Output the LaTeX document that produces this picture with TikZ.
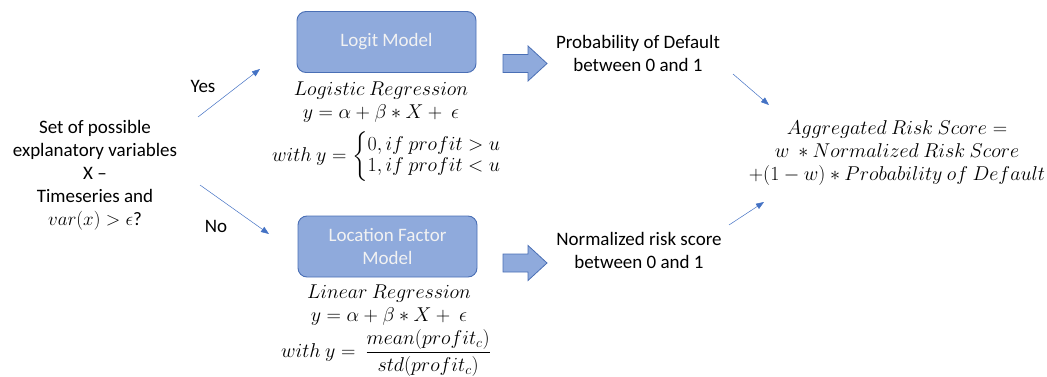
\RequirePackage{fix-cm}
\documentclass[tikz,border=0pt]{standalone}
\usepackage{amsmath}
\usepackage{fontspec}
\setmainfont{Carlito}
\usetikzlibrary{arrows.meta}
\definecolor{boxfill}{HTML}{8FAADC}
\definecolor{boxedge}{HTML}{4A6FB5}
\definecolor{linkblue}{HTML}{4472C4}
\begin{document}
\begin{tikzpicture}[x=1pt,y=-1pt,
  every node/.style={font=\fontsize{19}{23}\selectfont, inner sep=0pt},
  model/.style={draw=boxedge, line width=0.9pt, fill=boxfill, rounded corners=9pt,
    minimum width=179pt, minimum height=61pt, align=center, text=white!95!black},
  txt/.style={align=center},
  eq/.style={font=\fontsize{20}{23}\selectfont, align=center},
  link/.style={draw=linkblue, line width=0.5pt, -{Triangle[length=8pt,width=6pt]}},
  blockarrow/.style={draw=boxedge, line width=0.8pt, fill=boxfill}]
\useasboundingbox (0,0) rectangle (1047,377);

% input question
\node[txt] (input) at (95,175) {Set of possible\\explanatory variables\\X --\\Timeseries and\\$var(x) > \epsilon$?};

% branch labels
\node (yes) at (203,86) {Yes};
\node (no) at (216,226) {No};
\coordinate (yesA) at (198,117);
\coordinate (yesB) at (260,69);
\coordinate (noA) at (200,185);
\coordinate (noB) at (269,234);
\draw[link] (yesA) -- (yesB);
\draw[link] (noA) -- (noB);

% model boxes
\node[model] (logit) at (386.5,42) {Logit Model};
\node[model] (loc) at (387.5,246.5) {Location Factor\\Model};

% logistic regression formulas
\node[eq] (lr1) at (381,102) {$Logistic\ Regression$\\$y = \alpha + \beta * X +\ \epsilon$};
\node[eq, anchor=west] (lr3) at (272,157)
  {$with\ y = \left\{\renewcommand{\arraystretch}{0.92}\begin{array}{@{}l@{}}0, if\ profit > u\\ 1, if\ profit < u\end{array}\right.$};

% linear regression formulas
\node[eq] (li1) at (389,305) {$Linear\ Regression$\\$y = \alpha + \beta * X +\ \epsilon$};
\node[eq] (li3) at (386,353) {$with\ y = \ \dfrac{mean(profit_c)}{std(profit_c)}$};

% block arrows
\coordinate (ba1) at (503,45.5);
\coordinate (ba2) at (503,245);
\foreach \c in {ba1,ba2}{
  \draw[blockarrow] ([yshift=-9]\c) -- ++(25,0) -- ++(0,-8.5) -- ++(19,17.5)
    -- ++(-19,17.5) -- ++(0,-8.5) -- ++(-25,0) -- cycle;
}

% outcomes
\node[txt] (pd) at (638,53) {Probability of Default\\between 0 and 1};
\node[txt] (nr) at (639,250) {Normalized risk score\\between 0 and 1};

\coordinate (pdA) at (733,74);
\coordinate (pdB) at (769,105);
\coordinate (nrA) at (729,225);
\coordinate (nrB) at (764,202);
\draw[link] (pdA) -- (pdB);
\draw[link] (nrA) -- (nrB);

% aggregated score
\node[eq] (agg) at (897,153)
  {$Aggregated\ Risk\ Score =$\\$w\ * Normalized\ Risk\ Score$\\$+(1-w)*Probability\ of\ Default$};
\end{tikzpicture}
\end{document}
